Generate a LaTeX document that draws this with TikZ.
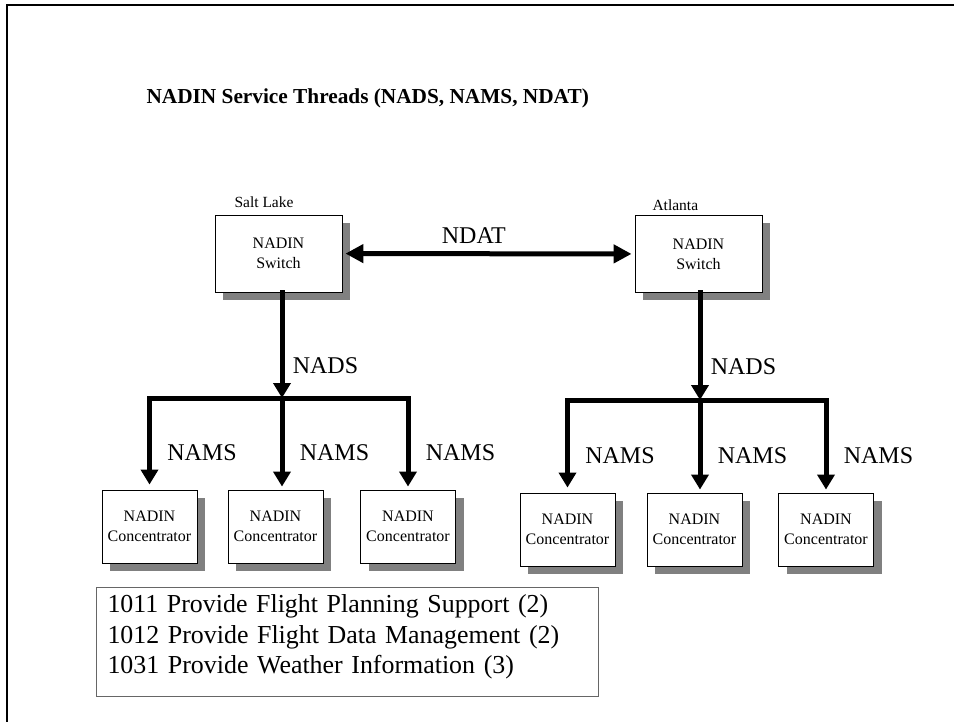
\documentclass[tikz,border=0pt]{standalone}
\usepackage{fontspec}
\setmainfont{Liberation Serif}
\usetikzlibrary{arrows.meta,shadows}

\tikzset{
  switchbox/.style={draw, line width=0.9pt, fill=white, minimum width=127pt, minimum height=77pt,
    align=center, font=\fontsize{16}{20}\selectfont,
    drop shadow={shadow xshift=8pt, shadow yshift=-8pt, fill=black!50, opacity=1}},
  concbox/.style={switchbox, minimum width=95pt, minimum height=73pt},
  citylabel/.style={anchor=base west, font=\fontsize{15.5}{18}\selectfont},
  linklabel/.style={font=\fontsize{24}{28}\selectfont},
  fatline/.style={line width=5pt, line cap=rect},
  fatarrow/.style={fatline, -{Triangle[length=15pt,width=17pt]}},
  listbox/.style={draw=black!60, line width=1pt, align=left, text width=480pt,
    inner xsep=11pt, inner ysep=7pt, text height=18pt, text depth=77pt,
    font=\fontsize{25.9}{30.5}\selectfont}
}

\begin{document}
\begin{tikzpicture}[x=1pt, y=-1pt]
        \useasboundingbox (0,0) rectangle (954,722);

        % Rahmen (nur links und oben)
        \draw[line width=2pt] (7,722) -- (7,5) -- (954,5);

        % Titel
        \node[anchor=base west, font=\bfseries\fontsize{21.3}{25}\selectfont] (title) at (143,104)
            {NADIN Service Threads (NADS, NAMS, NDAT)};

        % Switches
        \node[switchbox] (slsw) at (278.5,253.5) {NADIN\\Switch};
        \node[switchbox] (atsw) at (698.5,254) {NADIN\\Switch};
        \node[citylabel] (slname) at (231,208) {Salt Lake};
        \node[citylabel] (atname) at (649,211) {Atlanta};

        % NDAT zwischen den Switches
        \draw[line width=5pt, {Triangle[length=18pt,width=18pt]}-{Triangle[length=18pt,width=18pt]},
            shorten <=3pt, shorten >=3pt] (slsw) -- (atsw)
            node[pos=0.45, above=4pt, linklabel] (ndat) {NDAT};

        % Concentrators Salt Lake
        \node[concbox] (slc1) at (149.5,526.5) {NADIN\\Concentrator};
        \node[concbox] (slc2) at (275.5,526.5) {NADIN\\Concentrator};
        \node[concbox] (slc3) at (408,526.5) {NADIN\\Concentrator};

        % Concentrators Atlanta
        \node[concbox] (atc1) at (567.5,529.5) {NADIN\\Concentrator};
        \node[concbox] (atc2) at (694.5,529.5) {NADIN\\Concentrator};
        \node[concbox] (atc3) at (826,529.5) {NADIN\\Concentrator};

        % Verteiler Salt Lake (NADS, NAMS)
        \coordinate (slbar) at (282,398);
        \draw[fatarrow] (slbar |- slsw.south) -- (slbar) node[pos=0.69, right=5pt, linklabel] {NADS};
        \draw[fatline] (slc1.north |- slbar) -- (slc3.north |- slbar);
        \draw[fatarrow, shorten >=5pt] (slc1.north |- slbar) -- (slc1.north) node[pos=0.6, right=12pt, linklabel] {NAMS};
        \draw[fatarrow, shorten >=3pt] (slbar) -- (slbar |- slc2.north) node[pos=0.6, right=12pt, linklabel] {NAMS};
        \draw[fatarrow, shorten >=3pt] (slc3.north |- slbar) -- (slc3.north) node[pos=0.6, right=12pt, linklabel] {NAMS};

        % Verteiler Atlanta (NADS, NAMS)
        \coordinate (atbar) at (700,400);
        \draw[fatarrow] (atbar |- atsw.south) -- (atbar) node[pos=0.69, right=5pt, linklabel] {NADS};
        \draw[fatline] (atc1.north |- atbar) -- (atc3.north |- atbar);
        \draw[fatarrow, shorten >=5pt] (atc1.north |- atbar) -- (atc1.north) node[pos=0.6, right=12pt, linklabel] {NAMS};
        \draw[fatarrow, shorten >=3pt] (atbar) -- (atbar |- atc2.north) node[pos=0.6, right=12pt, linklabel] {NAMS};
        \draw[fatarrow, shorten >=3pt] (atc3.north |- atbar) -- (atc3.north) node[pos=0.6, right=12pt, linklabel] {NAMS};

        % Liste der Dienste
        \node[listbox, anchor=north west] (tasks) at (96,587)
            {1011 Provide Flight Planning Support (2)\\
             1012 Provide Flight Data Management (2)\\
             1031 Provide Weather Information (3)};
\end{tikzpicture}
\end{document}
